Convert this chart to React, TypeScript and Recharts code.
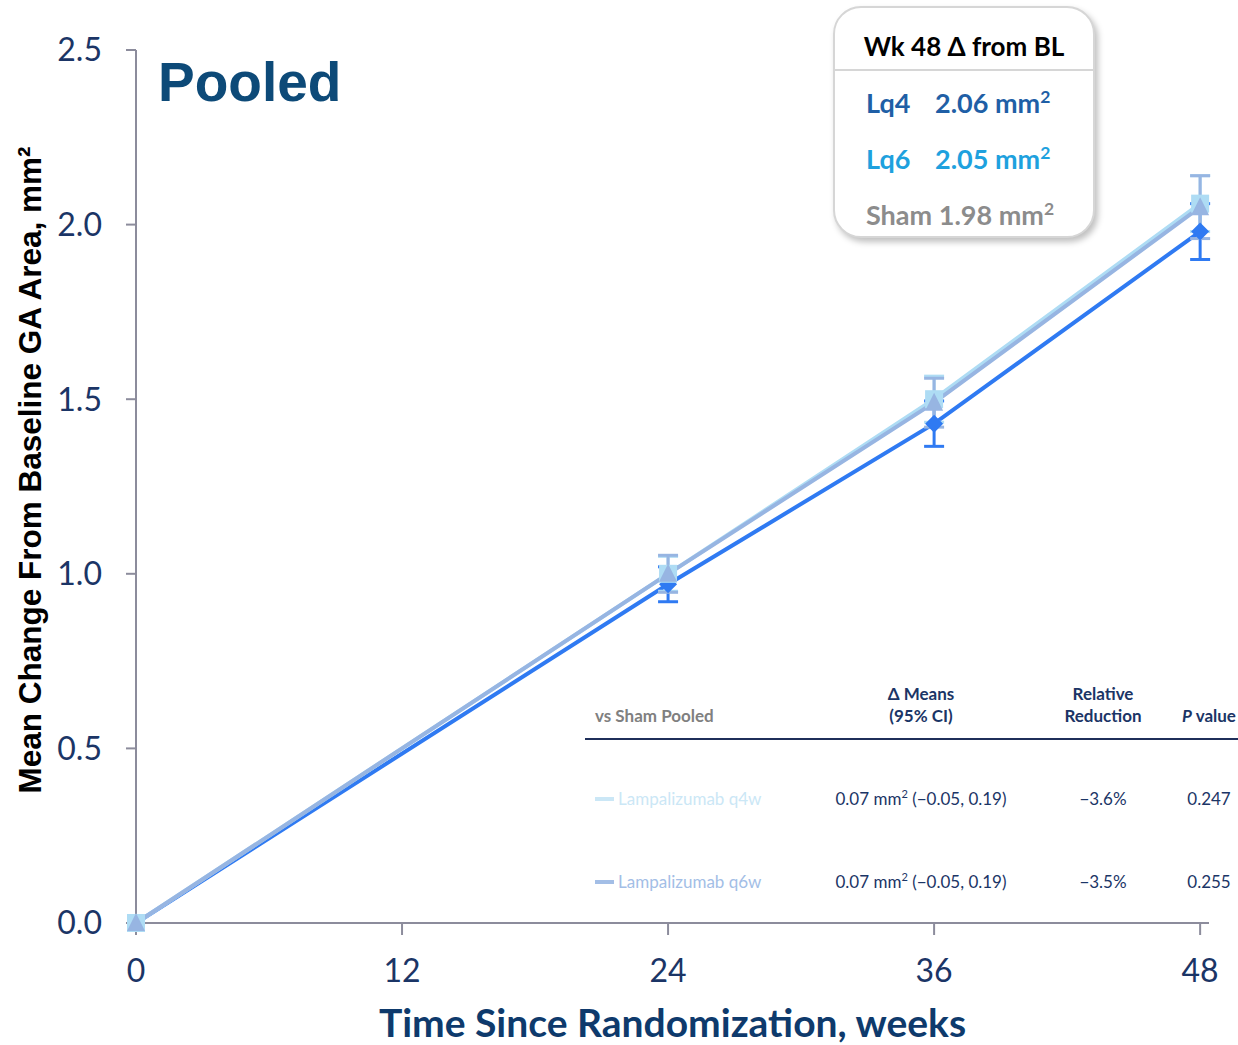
import React from "react";
import {
  LineChart,
  Line,
  XAxis,
  YAxis,
  ErrorBar,
  Label,
} from "recharts";

const weeks = [0, 24, 36, 48];
const lq4Mean = [0, 1.0, 1.5, 2.06];
const lq4Err = [0, 0.05, 0.066, 0.08];
const lq6Mean = [0, 1.0, 1.49, 2.05];
const lq6Err = [0, 0.053, 0.07, 0.09];
const shamMean = [0, 0.97, 1.43, 1.98];
const shamErr = [0, 0.05, 0.065, 0.08];

const xTicks = [0, 12, 24, 36, 48];
const yTicks = [0, 0.5, 1.0, 1.5, 2.0, 2.5];

const boxRows = [
  { label: "Lq4", value: "2.06 mm", color: "#1F5FA6" },
  { label: "Lq6", value: "2.05 mm", color: "#1EA1DE" },
  { label: "Sham", value: "1.98 mm", color: "#8C8C8C" },
];

const tableRows = [
  { name: "Lampalizumab q4w", swatch: "#CBE7F6", diff: "0.07 mm", ci: " (−0.05, 0.19)", rel: "−3.6%", p: "0.247" },
  { name: "Lampalizumab q6w", swatch: "#A3BEE6", diff: "0.07 mm", ci: " (−0.05, 0.19)", rel: "−3.5%", p: "0.255" },
];

const C_LQ4 = "#AEDCF4";
const C_LQ6 = "#97B5E2";
const C_SHAM = "#2F7AF2";
const NAVY = "#1B3566";
const AXIS = "#8C8C9C";

const data = weeks.map((w, i) => ({
  week: w,
  lq4: lq4Mean[i],
  lq4e: lq4Err[i],
  lq6: lq6Mean[i],
  lq6e: lq6Err[i],
  sham: shamMean[i],
  shame: shamErr[i],
}));

const Square = (p: any) => (
  <rect key={`sq-${p.index}`} x={p.cx - 9} y={p.cy - 9} width={18} height={18} fill={C_LQ4} />
);
const Triangle = (p: any) => (
  <path key={`tr-${p.index}`} d={`M${p.cx},${p.cy - 10} L${p.cx + 9},${p.cy + 8} L${p.cx - 9},${p.cy + 8} Z`} fill={C_LQ6} />
);
const Diamond = (p: any) => (
  <path key={`di-${p.index}`} d={`M${p.cx},${p.cy - 9} L${p.cx + 9},${p.cy} L${p.cx},${p.cy + 9} L${p.cx - 9},${p.cy} Z`} fill={C_SHAM} />
);

const calibri = "Lato, 'Open Sans', sans-serif";

const YTitle = () => (
  <text
    x={0}
    y={0}
    transform="translate(41, 470) rotate(-90)"
    textAnchor="middle"
    style={{ fontSize: 31.5, fontWeight: 700, fill: "#000", fontFamily: "'Liberation Sans', Arial, sans-serif" }}
  >
    Mean Change From Baseline GA Area, mm²
  </text>
);

export default function App() {
  return (
    <div style={{ position: "absolute", left: 0, top: 0, width: 1238, height: 1045, background: "#fff", fontFamily: calibri }}>
      <LineChart width={1238} height={1045} data={data} margin={{ top: 50, right: 29, bottom: 0, left: 0 }}>
        <XAxis
          dataKey="week"
          type="number"
          domain={[0, 48.4]}
          ticks={xTicks}
          height={122}
          tickSize={12}
          tickMargin={24}
          stroke={AXIS}
          strokeWidth={2}
          tick={{ fontSize: 32, fill: NAVY, fontFamily: calibri }}
        >
          <Label
            value="Time Since Randomization, weeks"
            position="insideBottom"
            offset={8}
            style={{ fontSize: 39, fontWeight: 700, fill: "#0E3A6C", fontFamily: calibri }}
          />
        </XAxis>
        <YAxis
          type="number"
          domain={[0, 2.5]}
          ticks={yTicks}
          width={136}
          tickSize={10}
          tickMargin={24}
          stroke={AXIS}
          strokeWidth={2}
          tickFormatter={(v: number) => v.toFixed(1)}
          tick={{ fontSize: 32, fill: NAVY, fontFamily: calibri }}
        >
          <Label content={YTitle} />
        </YAxis>
        <Line type="linear" dataKey="sham" stroke={C_SHAM} strokeWidth={4} dot={Diamond} activeDot={false} isAnimationActive={false}>
          <ErrorBar dataKey="shame" width={10} strokeWidth={3} stroke={C_SHAM} direction="y" />
        </Line>
        <Line type="linear" dataKey="lq4" stroke={C_LQ4} strokeWidth={4} dot={Square} activeDot={false} isAnimationActive={false}>
          <ErrorBar dataKey="lq4e" width={10} strokeWidth={3} stroke={C_LQ4} direction="y" />
        </Line>
        <Line type="linear" dataKey="lq6" stroke={C_LQ6} strokeWidth={4} dot={Triangle} activeDot={false} isAnimationActive={false}>
          <ErrorBar dataKey="lq6e" width={10} strokeWidth={3} stroke={C_LQ6} direction="y" />
        </Line>
      </LineChart>

      <div style={{ position: "absolute", left: 158, top: 50, fontFamily: "'Liberation Sans', Arial, sans-serif", fontWeight: 700, fontSize: 55, color: "#0D4A78" }}>
        Pooled
      </div>

      <div
        style={{
          position: "absolute",
          left: 833,
          top: 6,
          width: 262,
          height: 232,
          border: "2px solid #D6D6D6",
          borderRadius: 28,
          background: "#fff",
          boxShadow: "3px 4px 6px rgba(0,0,0,0.25)",
          boxSizing: "border-box",
        }}
      >
        <div style={{ textAlign: "center", fontWeight: 700, fontSize: 26, color: "#000", paddingTop: 22, height: 39, borderBottom: "2px solid #D6D6D6", whiteSpace: "nowrap" }}>
          Wk 48 Δ from BL
        </div>
        {boxRows.map((r, i) => (
          <div key={r.label} style={{ position: "absolute", left: 31, top: 78 + i * 56, fontWeight: 700, fontSize: 27, color: r.color, whiteSpace: "pre" }}>
            {i < 2 ? (
              <>
                <span>{r.label}</span>
                <span style={{ position: "absolute", left: 69 }}>
                  {r.value}
                  <sup style={{ fontSize: "0.65em", lineHeight: 0 }}>2</sup>
                </span>
              </>
            ) : (
              <>
                {r.label} {r.value}
                <sup style={{ fontSize: "0.65em", lineHeight: 0 }}>2</sup>
              </>
            )}
          </div>
        ))}
      </div>

      <div style={{ position: "absolute", left: 595, top: 705, fontSize: 17, fontWeight: 700, color: "#808080" }}>vs Sham Pooled</div>
      <div style={{ position: "absolute", left: 821, width: 200, top: 683, fontSize: 17, fontWeight: 700, color: NAVY, textAlign: "center", lineHeight: "22px" }}>
        Δ Means<br />(95% CI)
      </div>
      <div style={{ position: "absolute", left: 1043, width: 120, top: 683, fontSize: 17, fontWeight: 700, color: NAVY, textAlign: "center", lineHeight: "22px" }}>
        Relative<br />Reduction
      </div>
      <div style={{ position: "absolute", left: 1164, width: 90, top: 705, fontSize: 17, fontWeight: 700, color: NAVY, textAlign: "center", whiteSpace: "nowrap" }}>
        <i>P</i> value
      </div>
      <div style={{ position: "absolute", left: 585, top: 738, width: 653, height: 2, background: "#1F2F5A" }} />

      {tableRows.map((r, i) => (
        <React.Fragment key={r.name}>
          <div style={{ position: "absolute", left: 595, top: 788 + i * 83, fontSize: 17, color: r.swatch, display: "flex", alignItems: "center" }}>
            <span style={{ display: "inline-block", width: 19, height: 4, background: r.swatch, marginRight: 4 }} />
            {r.name}
          </div>
          <div style={{ position: "absolute", left: 811, width: 220, top: 788 + i * 83, fontSize: 17, color: NAVY, textAlign: "center", whiteSpace: "pre" }}>
            {r.diff}
            <sup style={{ fontSize: "0.65em", lineHeight: 0 }}>2</sup>
            {r.ci}
          </div>
          <div style={{ position: "absolute", left: 1053, width: 100, top: 788 + i * 83, fontSize: 17, color: NAVY, textAlign: "center" }}>{r.rel}</div>
          <div style={{ position: "absolute", left: 1169, width: 80, top: 788 + i * 83, fontSize: 17, color: NAVY, textAlign: "center" }}>{r.p}</div>
        </React.Fragment>
      ))}
    </div>
  );
}
